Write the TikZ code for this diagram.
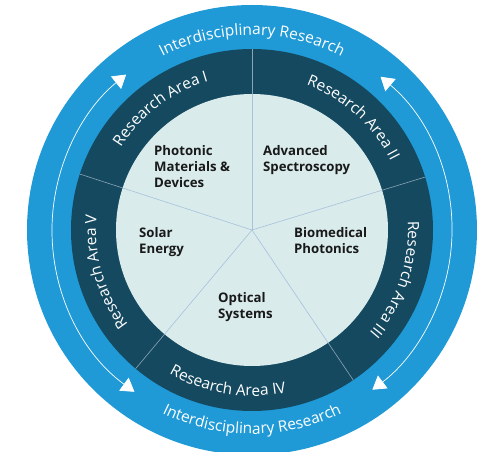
\documentclass[tikz,border=0pt]{standalone}
\usepackage{fontspec}
\setsansfont{Open Sans}
\usetikzlibrary{arrows.meta,decorations.text}

\definecolor{outerblue}{RGB}{31,154,214}
\definecolor{areadark}{RGB}{20,73,96}
\definecolor{corefill}{RGB}{217,235,235}
\definecolor{spokecore}{RGB}{168,193,220}
\definecolor{spokering}{RGB}{140,165,182}
\definecolor{labeltext}{RGB}{25,25,25}

\newcommand{\ringfont}{\sffamily\fontsize{15.5}{18}\selectfont}

\tikzset{
	areatitle/.style={anchor=base west, align=left, inner sep=0pt, text=labeltext,
		font=\sffamily\bfseries\fontsize{13.2}{16.3}\selectfont},
	ringtext/.style={decorate, decoration={text along path, text align=center,
		text color=white, text={|\ringfont|#1}}},
	cyclearrow/.style={white, line width=0.7pt,
		{Triangle[width=16pt,length=13pt]}-{Triangle[width=16pt,length=13pt]}}
}

\begin{document}
\begin{tikzpicture}[x=1pt, y=1pt]

	\def\rout{225}
	\def\rring{181}
	\def\rcore{136}
	\def\rarc{200}

	\useasboundingbox (-252,-222) rectangle (231,230);

	\coordinate (c) at (0,0);

	\fill[outerblue] (c) circle (\rout);
	\fill[areadark] (c) circle (\rring);
	\fill[corefill] (c) circle (\rcore);

	\foreach \a in {90,17,162,230,304} {
		\draw[spokecore, line width=0.6pt] (c) -- (\a:\rcore);
		\draw[spokering, line width=0.6pt] (\a:\rcore) -- (\a:\rring);
	}

	\draw[cyclearrow] (234:\rarc) arc(234:129:\rarc);
	\draw[cyclearrow] (50:\rarc) arc(50:-53:\rarc);

	\path[ringtext=Interdisciplinary Research] (150:195) arc(150:30:195);
	\path[ringtext=Interdisciplinary Research] (210:204) arc(210:330:204);

	\path[ringtext=Research Area I] (167:155) arc(167:87:155);
	\path[ringtext=Research Area II] (93:155) arc(93:3:155);
	\path[ringtext=Research Area III] (21:156) arc(21:-59:156);
	\path[ringtext=Research Area IV] (216:166) arc(216:306:166);
	\path[ringtext=Research Area V] (236:156) arc(236:156:156);

	\node[areatitle] (photonic) at (-98,42) {Photonic\\Materials \&\\Devices};
	\node[areatitle] (spectro) at (11,58) {Advanced\\Spectroscopy};
	\node[areatitle] (biomed) at (42,-24) {Biomedical\\Photonics};
	\node[areatitle] (solar) at (-113,-24) {Solar\\Energy};
	\node[areatitle] (optical) at (-34,-89) {Optical\\Systems};

\end{tikzpicture}
\end{document}
